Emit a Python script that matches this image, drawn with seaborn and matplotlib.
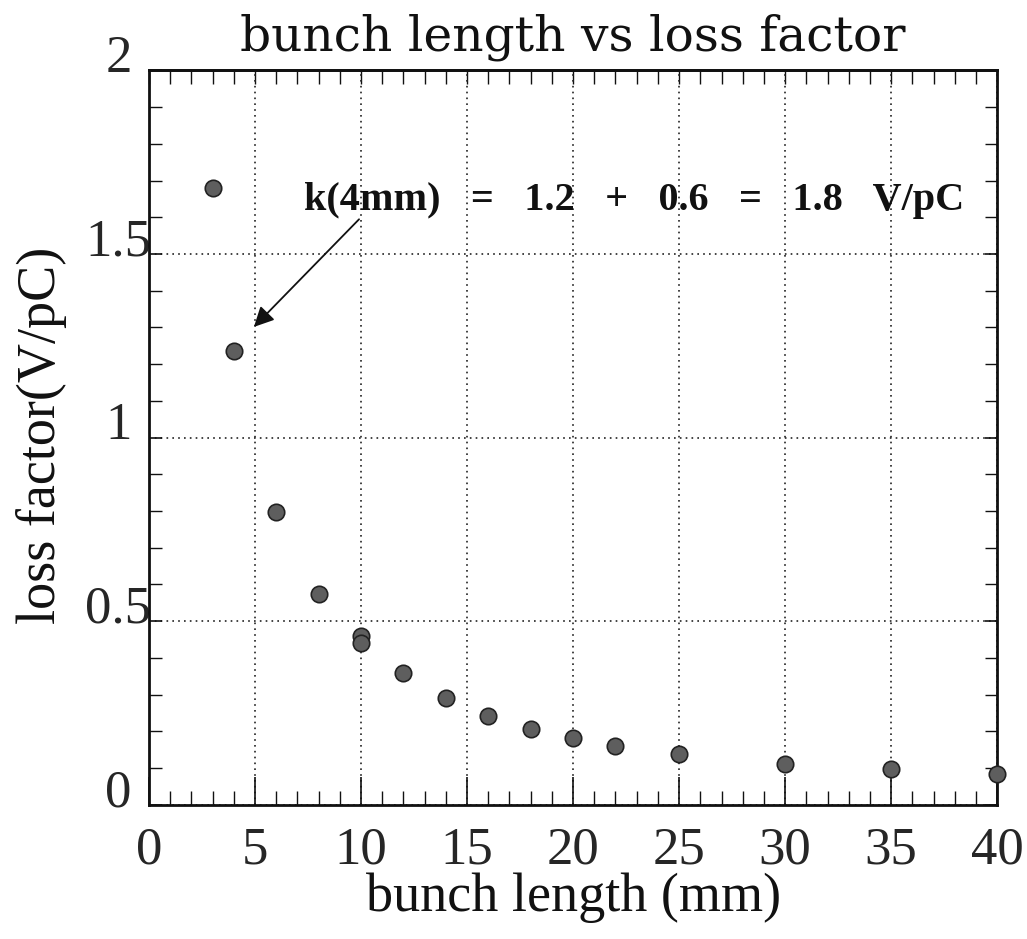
import matplotlib
matplotlib.use("Agg")
import matplotlib.pyplot as plt
from matplotlib.ticker import MultipleLocator
import matplotlib.transforms as mtransforms
import seaborn as sns
import pandas as pd

bunch_length = [3, 4, 6, 8, 10, 10, 12, 14, 16, 18, 20, 22, 25, 30, 35, 40]
loss_factor = [1.68, 1.236, 0.796, 0.573, 0.459, 0.440, 0.359, 0.291, 0.242,
               0.207, 0.182, 0.160, 0.139, 0.111, 0.098, 0.084]
x_ticks = [0, 5, 10, 15, 20, 25, 30, 35, 40]
y_ticks = [0, 0.5, 1, 1.5, 2]
y_tick_labels = ["0", "0.5", "1", "1.5", "2"]

df = pd.DataFrame({"bunch length (mm)": bunch_length, "loss factor(V/pC)": loss_factor})

sns.set_theme(style="white")
plt.rcParams['font.family'] = ['Liberation Serif', 'DejaVu Serif']

fig = plt.figure(figsize=(10.27, 9.39), dpi=100)
ax = fig.add_axes([0.145, 0.143, 0.826, 0.782])

sns.scatterplot(data=df, x="bunch length (mm)", y="loss factor(V/pC)", ax=ax,
                s=140, color="#5e5e5e", edgecolor="#222222", linewidth=1.2, zorder=3,
                clip_on=False)

ax.set_xlim(0, 40)
ax.set_ylim(0, 2)
ax.set_xticks(x_ticks)
ax.set_xticklabels([str(t) for t in x_ticks])
ax.set_yticks(y_ticks)
ax.set_yticklabels(y_tick_labels)
ax.xaxis.set_minor_locator(MultipleLocator(1))
ax.yaxis.set_minor_locator(MultipleLocator(0.1))
ax.tick_params(which="both", direction="in", top=False, right=True, bottom=True, left=True,
               color="#111111")
ax.tick_params(axis="x", which="major", length=20, width=1.2, labelsize=38, pad=16)
ax.tick_params(axis="y", which="major", length=9, width=1.2, labelsize=38, pad=22)
ax.tick_params(axis="x", which="minor", length=10, width=1.0)
ax.tick_params(axis="y", which="minor", length=9, width=1.0)

# top axis: short ticks only
top = ax.secondary_xaxis("top")
top.set_xticks(x_ticks)
top.xaxis.set_minor_locator(MultipleLocator(1))
top.tick_params(which="both", direction="in", length=10, width=1.0, color="#111111",
                labeltop=False)
top.spines["top"].set_linewidth(2.0)
top.spines["top"].set_color("#111111")

# y tick labels: centered and raised slightly
offset = mtransforms.ScaledTranslation(0, 17 / 100, fig.dpi_scale_trans)
for lbl in ax.get_yticklabels():
    lbl.set_ha("center")
    lbl.set_transform(lbl.get_transform() + offset)

ax.grid(True, which="major", linestyle=(0, (1, 2.5)), color="#222222", linewidth=1.2)
for sp in ax.spines.values():
    sp.set_color("#111111")
    sp.set_linewidth(2.0)

ax.set_xlabel("bunch length (mm)", fontsize=39, labelpad=-2, color="#111111")
ax.set_ylabel("loss factor(V/pC)", fontsize=39, color="#111111")
ax.yaxis.set_label_coords(-0.096, 0.503)
ax.set_title("bunch length vs loss factor", fontsize=35, pad=14, color="#111111",
             family=["DejaVu Serif"])

ax.annotate("", xy=(4.86, 1.296), xytext=(10.0, 1.60),
            arrowprops=dict(arrowstyle="-|>", color="#111111", lw=1.3,
                            mutation_scale=30))
ax.text(7.3, 1.645, "k(4mm)   =   1.2   +   0.6   =   1.8   V/pC", fontsize=29,
        fontweight="bold", va="center", ha="left", color="#111111")

fig.savefig("out.png", dpi=100)
